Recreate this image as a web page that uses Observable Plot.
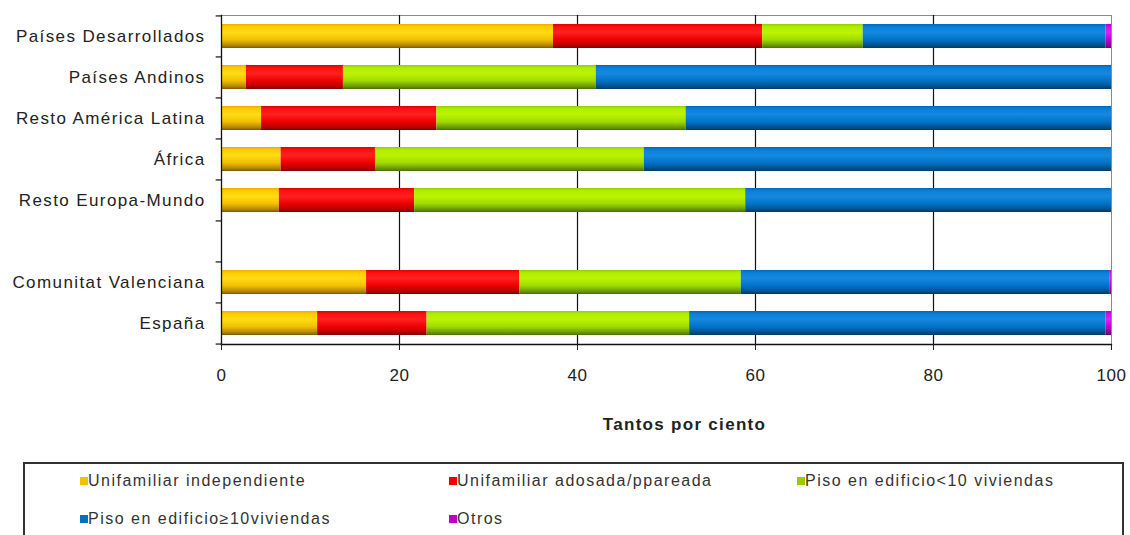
<!DOCTYPE html>
<html>
<head>
<meta charset="utf-8">
<script src="https://cdn.jsdelivr.net/npm/d3@7"></script>
<script src="https://cdn.jsdelivr.net/npm/@observablehq/plot@0.6"></script>
<style>
  html, body { margin: 0; padding: 0; background: #fff; }
  body { width: 1130px; height: 535px; position: relative; overflow: hidden; font-family: "Liberation Sans", Arial, sans-serif; }
  #chart { position: absolute; left: 0; top: 0; }
  #legend { position: absolute; left: 23px; top: 462px; width: 1101px; height: 90px; border: 2px solid #333; box-sizing: border-box; }
  .item { position: absolute; font-size: 16px; color: #333; white-space: nowrap; letter-spacing: 1.5px; }
  .sw { display: inline-block; width: 8px; height: 8px; margin-right: 0px; vertical-align: 1px; }
  #chart svg g[aria-label="y-axis tick label"] text { letter-spacing: 1.4px; }
  #chart svg g[aria-label="x-axis tick label"] text { letter-spacing: 0.5px; }
  #chart svg g[aria-label="x-axis label"] text { letter-spacing: 1.3px; font-weight: bold; }
</style>
</head>
<body>
<div id="chart"></div>
<div id="legend"></div>
<script>
// ---- data ----
const categories = ["Países Desarrollados", "Países Andinos", "Resto América Latina", "África", "Resto Europa-Mundo", " ", "Comunitat Valenciana", "España"];
const series = ["Unifamiliar independiente", "Unifamiliar adosada/ppareada", "Piso en edificio<10 viviendas", "Piso en edificio≥10viviendas", "Otros"];
const unifamiliarIndependiente = [37.3, 2.8, 4.5, 6.7, 6.5, null, 16.3, 10.8];
const unifamiliarAdosada       = [23.5, 10.9, 19.7, 10.6, 15.2, null, 17.2, 12.3];
const pisoMenos10              = [11.3, 28.4, 28.0, 30.2, 37.2, null, 24.9, 29.5];
const pisoMas10                = [27.3, 57.9, 47.8, 52.5, 41.1, null, 41.4, 46.8];
const otros                    = [0.6, 0.0, 0.0, 0.0, 0.0, null, 0.2, 0.6];
const xTicks = [0, 20, 40, 60, 80, 100];
const legendLabels = ["Unifamiliar independiente", "Unifamiliar adosada/ppareada", "Piso en edificio<10 viviendas", "Piso en edificio≥10viviendas", "Otros"];
const swatchColors = ["#f5c000", "#e80000", "#99cc00", "#0070c0", "#c000c0"];

// ---- table ----
const columns = [unifamiliarIndependiente, unifamiliarAdosada, pisoMenos10, pisoMas10, otros];
const rows = [];
categories.forEach((c, i) => {
  columns.forEach((col, j) => {
    if (col[i] != null) rows.push({category: c, series: series[j], value: col[i]});
  });
});

const W = 1130, H = 455, mL = 221, mR = 19, mT = 15, mB = 111;
const step = (H - mT - mB) / categories.length;

const chart = Plot.plot({
  width: W, height: H,
  marginLeft: mL, marginRight: mR, marginTop: mT, marginBottom: mB,
  style: {fontFamily: "'Liberation Sans', Arial, sans-serif", fontSize: "17px", color: "#222", background: "white"},
  x: {domain: [0, 100]},
  y: {domain: categories, paddingInner: 0.41, paddingOuter: 0.205},
  color: {domain: series, range: ["url(#g0)", "url(#g1)", "url(#g2)", "url(#g3)", "url(#g4)"]},
  marks: [
    Plot.frame({stroke: "#8a8a8a"}),
    Plot.gridX([20, 40, 60, 80], {stroke: "#111", strokeOpacity: 1, strokeWidth: 1.2}),
    Plot.barX(rows, Plot.stackX({x: "value", y: "category", fill: "series", order: series})),
    Plot.frame({anchor: "left", stroke: "#111", strokeWidth: 1.3}),
    Plot.frame({anchor: "bottom", stroke: "#111", strokeWidth: 1.3}),
    Plot.ruleY(categories, {y: d => d, x1: -0.6, x2: 0, dy: -step / 2, stroke: "#111", strokeWidth: 1.2}),
    Plot.ruleY([categories[categories.length - 1]], {y: d => d, x1: -0.6, x2: 0, dy: step / 2, stroke: "#111", strokeWidth: 1.2}),
    Plot.axisY({tickSize: 0, tickPadding: 16, label: null, fontSize: 17}),
    Plot.axisX({ticks: xTicks, tickSize: 6, tickPadding: 18, fontSize: 17, label: "Tantos por ciento", labelAnchor: "center", labelArrow: "none", labelOffset: 85})
  ]
});

// gradients
const ns = "http://www.w3.org/2000/svg";
const defs = document.createElementNS(ns, "defs");
const grads = [
  [["0", "#e9ae00"], ["0.12", "#ffcc00"], ["0.35", "#ffdc14"], ["0.65", "#f2c000"], ["0.88", "#b88a00"], ["1", "#7a5a00"]],
  [["0", "#e00000"], ["0.12", "#ff1010"], ["0.35", "#ff2020"], ["0.65", "#ee0000"], ["0.88", "#b80000"], ["1", "#800000"]],
  [["0", "#94d000"], ["0.12", "#b0ee00"], ["0.35", "#bcf400"], ["0.65", "#a0dc00"], ["0.88", "#6c9c00"], ["1", "#4a7000"]],
  [["0", "#0068b8"], ["0.12", "#0a80d8"], ["0.35", "#1688e0"], ["0.65", "#0074c8"], ["0.88", "#00528f"], ["1", "#003a66"]],
  [["0", "#b000c0"], ["0.12", "#d010e0"], ["0.35", "#e020f0"], ["0.65", "#c000d0"], ["0.88", "#900098"], ["1", "#600068"]]
];
grads.forEach((stops, i) => {
  const g = document.createElementNS(ns, "linearGradient");
  g.setAttribute("id", "g" + i);
  g.setAttribute("x1", "0"); g.setAttribute("y1", "0"); g.setAttribute("x2", "0"); g.setAttribute("y2", "1");
  stops.forEach(([o, c]) => {
    const s = document.createElementNS(ns, "stop");
    s.setAttribute("offset", o); s.setAttribute("stop-color", c);
    g.appendChild(s);
  });
  defs.appendChild(g);
});
chart.insertBefore(defs, chart.firstChild);
const lab = chart.querySelector('[aria-label="x-axis label"]');
if (lab) {
  lab.setAttribute("font-weight", "bold");
  lab.setAttribute("font-size", "17");
  lab.querySelectorAll("text").forEach(t => t.setAttribute("dx", "18"));
}
document.getElementById("chart").appendChild(chart);

// legend
const legend = document.getElementById("legend");
const pos = [[55, 8], [424, 8], [772, 8], [55, 46], [424, 46]];
legendLabels.forEach((t, i) => {
  const d = document.createElement("div");
  d.className = "item";
  d.style.left = pos[i][0] + "px";
  d.style.top = pos[i][1] + "px";
  d.innerHTML = `<span class="sw" style="background:${swatchColors[i]}"></span>`;
  d.appendChild(document.createTextNode(t));
  legend.appendChild(d);
});
</script>
</body>
</html>
